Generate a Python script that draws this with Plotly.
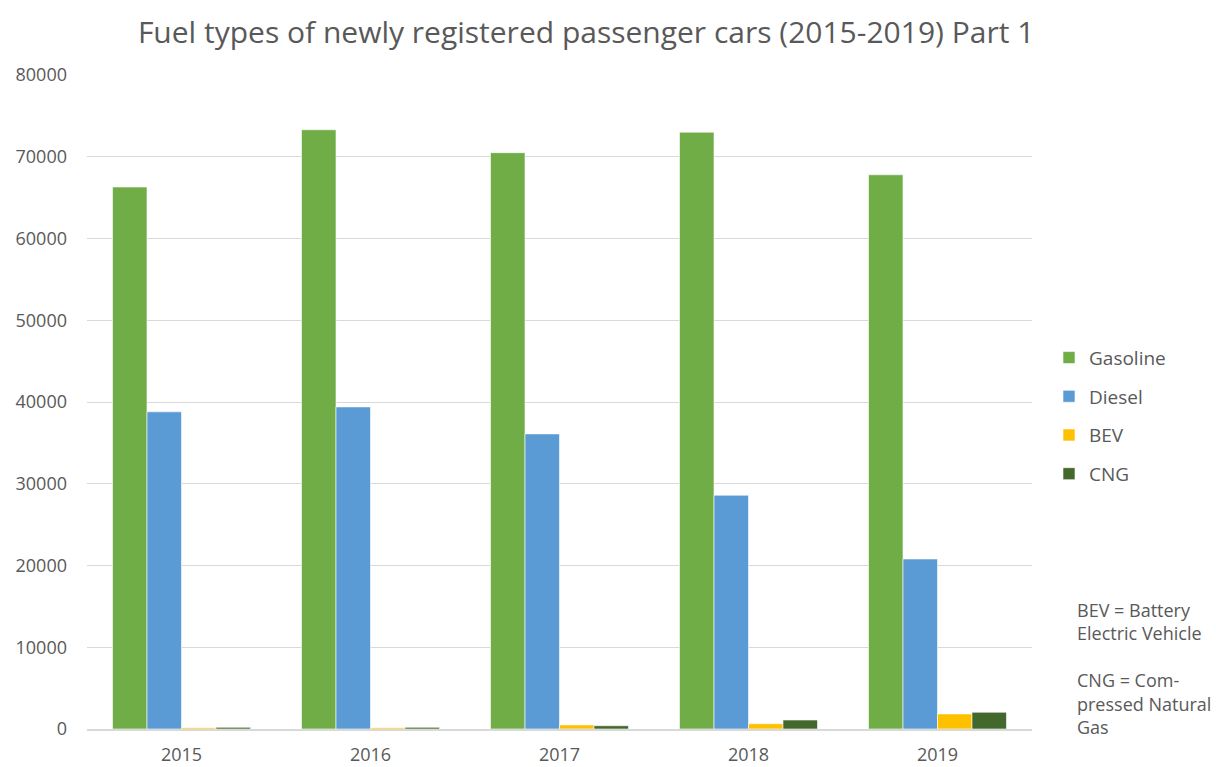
import plotly.graph_objects as go

# Registration counts per fuel type
years = ["2015", "2016", "2017", "2018", "2019"]
gasoline = [66300, 73300, 70500, 73000, 67800]
diesel = [38800, 39400, 36100, 28600, 20800]
bev = [150, 150, 500, 650, 1850]
cng = [200, 200, 400, 1100, 2050]

series = [
    ("Gasoline", gasoline, "#70AD47"),
    ("Diesel", diesel, "#5B9BD5"),
    ("BEV", bev, "#FFC000"),
    ("CNG", cng, "#43682B"),
]

FONT = "Open Sans, Liberation Sans, sans-serif"
GREY = "#595959"

fig = go.Figure()
for name, vals, col in series:
    fig.add_trace(go.Bar(
        x=years, y=vals, name=name, legendgroup=name,
        marker=dict(color=col, line=dict(color="white", width=0.6)),
    ))

fig.update_layout(
    width=1216, height=767,
    margin=dict(l=87, r=184, t=75, b=38, autoexpand=False),
    paper_bgcolor="white", plot_bgcolor="white",
    barmode="group", bargap=0.27, bargroupgap=0,
    font=dict(family=FONT, color=GREY, size=18),
    title=dict(
        text="Fuel types of newly registered passenger cars (2015-2019) Part 1",
        x=0.482, xanchor="center", y=0.957, yanchor="middle",
        font=dict(size=30, color=GREY, family=FONT),
    ),
    xaxis=dict(
        showgrid=False, showline=True, linecolor="#D9D9D9", linewidth=1.5,
        ticks="", tickfont=dict(size=18, color=GREY), ticklabelstandoff=9,
        automargin=False,
    ),
    yaxis=dict(
        range=[0, 80000], dtick=10000, tickformat="d",
        showgrid=True, gridcolor="#D9D9D9", gridwidth=1,
        zeroline=False, showline=False, ticks="",
        tickfont=dict(size=18, color=GREY), ticklabelstandoff=19,
        automargin=False,
    ),
    legend=dict(
        x=1.018, xanchor="left", y=0.479, yanchor="middle",
        font=dict(size=19, color=GREY), traceorder="grouped",
        tracegroupgap=11, itemwidth=30, bgcolor="rgba(0,0,0,0)",
    ),
)

fig.add_annotation(
    xref="paper", yref="paper", x=1.046, y=0.203, xanchor="left", yanchor="top",
    align="left", showarrow=False,
    text="BEV = Battery<br>Electric Vehicle<br><br>CNG = Com-<br>pressed Natural<br>Gas",
    font=dict(size=18, color=GREY, family=FONT),
)

fig.write_html("out.html")
